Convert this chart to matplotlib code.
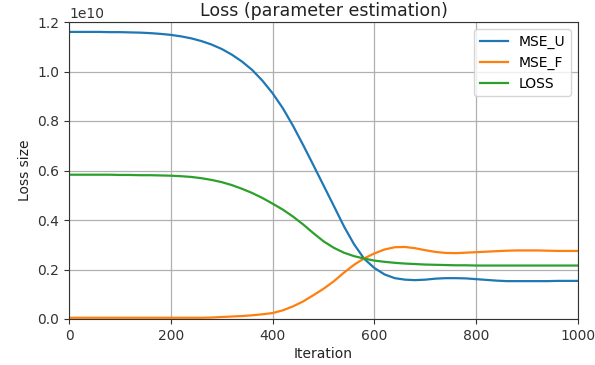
import matplotlib
matplotlib.use("Agg")
import matplotlib.pyplot as plt

iterations = list(range(0, 1001, 20))

mse_u = [1.160, 1.160, 1.160, 1.160, 1.159, 1.159, 1.158, 1.157, 1.155, 1.152,
         1.148, 1.142, 1.134, 1.123, 1.109, 1.091, 1.068, 1.040, 1.006, 0.963,
         0.912, 0.852, 0.781, 0.703, 0.622, 0.540, 0.458, 0.375, 0.302, 0.243,
         0.206, 0.180, 0.165, 0.159, 0.157, 0.159, 0.163, 0.165, 0.165, 0.164,
         0.161, 0.158, 0.155, 0.153, 0.153, 0.153, 0.153, 0.153, 0.154, 0.154,
         0.154]

mse_f = [0.005, 0.005, 0.005, 0.005, 0.005, 0.005, 0.005, 0.005, 0.005, 0.005,
         0.005, 0.005, 0.005, 0.005, 0.006, 0.008, 0.010, 0.012, 0.015, 0.019,
         0.024, 0.035, 0.051, 0.071, 0.096, 0.122, 0.152, 0.187, 0.219, 0.245,
         0.265, 0.281, 0.290, 0.291, 0.286, 0.278, 0.271, 0.267, 0.266, 0.268,
         0.270, 0.272, 0.274, 0.276, 0.277, 0.277, 0.277, 0.276, 0.275, 0.275,
         0.275]

loss = [0.583, 0.583, 0.583, 0.583, 0.583, 0.582, 0.582, 0.581, 0.581, 0.580,
        0.579, 0.577, 0.574, 0.569, 0.562, 0.553, 0.541, 0.526, 0.509, 0.489,
        0.466, 0.442, 0.414, 0.382, 0.347, 0.314, 0.288, 0.268, 0.254, 0.244,
        0.236, 0.231, 0.227, 0.224, 0.222, 0.220, 0.219, 0.218, 0.217, 0.217,
        0.216, 0.216, 0.216, 0.216, 0.216, 0.216, 0.216, 0.216, 0.216, 0.216,
        0.216]

scale = 1e10
labels = ["MSE_U", "MSE_F", "LOSS"]
colors = ["#1f77b4", "#ff7f0e", "#2ca02c"]

fig = plt.figure(figsize=(5.95, 3.65), dpi=100)
ax = fig.add_axes([69/595, 1 - 319/365, (578 - 69)/595, (319 - 22)/365])

for series, lab, c in zip([mse_u, mse_f, loss], labels, colors):
    ax.plot(iterations, [v * scale for v in series], color=c, lw=1.6, label=lab,
            solid_joinstyle="round")

ax.set_xlim(0, 1000)
ax.set_ylim(0, 1.2e10)
ax.set_xticks([0, 200, 400, 600, 800, 1000])
ax.set_yticks([0, 0.2e10, 0.4e10, 0.6e10, 0.8e10, 1.0e10, 1.2e10])
ax.grid(True, color="#b0b0b0", lw=0.9)
ax.tick_params(labelsize=10, colors="#333333", labelcolor="#333333")
ax.yaxis.get_offset_text().set_fontsize(10)
ax.yaxis.get_offset_text().set_color("#333333")
for s in ax.spines.values():
    s.set_color("#333333")

ax.set_title("Loss (parameter estimation)", fontsize=12.5, color="#222222", pad=4)
ax.set_xlabel("Iteration", fontsize=10, color="#222222", labelpad=3)
ax.set_ylabel("Loss size", fontsize=10, color="#222222")
ax.legend(loc="upper right", fontsize=10)

fig.savefig("out.png", dpi=100)
